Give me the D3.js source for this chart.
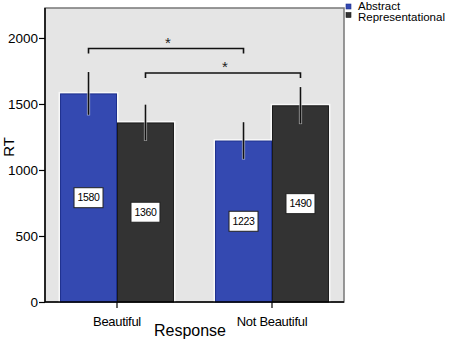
<!DOCTYPE html>
<html>
<head>
<meta charset="utf-8">
<script src="https://cdn.jsdelivr.net/npm/d3@7"></script>
<style>
  body { margin: 0; background: #fff; }
  svg { display: block; font-family: "Liberation Sans", Arial, sans-serif; }
</style>
</head>
<body>
<div id="chart"></div>
<script>
// RT by response and art style, SPSS-like grouped bar chart with error bars

const responses = ["Beautiful", "Not Beautiful"];
const styles = ["Abstract", "Representational"];
const abstractRT = [1580, 1223];
const representationalRT = [1360, 1490];
const abstractErr = [162, 139];
const representationalErr = [135, 138];
const yTicks = [0, 500, 1000, 1500, 2000];
// significance brackets: which style pair is compared, and bracket height in RT units
const bracketStyles = ["Abstract", "Representational"];
const bracketRT = [1920, 1735];
const bracketLabels = ["*", "*"];

const W = 454, H = 343;
const plot = { left: 45, top: 8, right: 344, bottom: 302 };

const colors = { Abstract: "#3449b1", Representational: "#333333" };
const edges = { Abstract: "#1c2f8e", Representational: "#1a1a1a" };

const rows = [];
responses.forEach((r, i) => {
  rows.push({ response: r, style: "Abstract", value: abstractRT[i], err: abstractErr[i] });
  rows.push({ response: r, style: "Representational", value: representationalRT[i], err: representationalErr[i] });
});

const svg = d3.select("#chart").append("svg")
  .attr("width", W)
  .attr("height", H)
  .attr("viewBox", `0 0 ${W} ${H}`);

const x0 = d3.scaleBand()
  .domain(responses)
  .range([plot.left, plot.right])
  .paddingInner(0.265)
  .paddingOuter(0.097);

const x1 = d3.scaleBand()
  .domain(styles)
  .range([0, x0.bandwidth()]);

const y = d3.scaleLinear()
  .domain([0, 2227])
  .range([plot.bottom, plot.top]);

const cx = d => x0(d.response) + x1(d.style) + x1.bandwidth() / 2;

// plot background
svg.append("rect")
  .attr("x", plot.left)
  .attr("y", plot.top)
  .attr("width", plot.right - plot.left)
  .attr("height", plot.bottom - plot.top)
  .attr("fill", "#e5e5e5")
  .attr("stroke", "#777")
  .attr("stroke-width", 1.5);

// light halo round bars
svg.append("g").selectAll("rect")
  .data(rows)
  .join("rect")
  .attr("x", d => x0(d.response) + x1(d.style) - 1.5)
  .attr("y", d => y(d.value) - 1.5)
  .attr("width", x1.bandwidth() + 3)
  .attr("height", d => y(0) - y(d.value) + 1.5)
  .attr("fill", "#f8f8f8");

svg.append("g").selectAll("rect")
  .data(rows)
  .join("rect")
  .attr("x", d => x0(d.response) + x1(d.style) + 0.5)
  .attr("y", d => y(d.value) + 0.5)
  .attr("width", x1.bandwidth() - 1)
  .attr("height", d => y(0) - y(d.value) - 0.5)
  .attr("fill", d => colors[d.style])
  .attr("stroke", d => edges[d.style])
  .attr("stroke-width", 1);

// error bars
const gErr = svg.append("g");
gErr.selectAll("line.halo")
  .data(rows)
  .join("line")
  .attr("class", "halo")
  .attr("x1", cx).attr("x2", cx)
  .attr("y1", d => y(d.value + d.err) - 0.6)
  .attr("y2", d => y(d.value - d.err) + 0.6)
  .attr("stroke", "#f4f4f4")
  .attr("stroke-opacity", 0.6)
  .attr("stroke-width", 3.2);
gErr.selectAll("line.bar")
  .data(rows)
  .join("line")
  .attr("class", "bar")
  .attr("x1", cx).attr("x2", cx)
  .attr("y1", d => y(d.value + d.err))
  .attr("y2", d => y(d.value - d.err))
  .attr("stroke", "#111")
  .attr("stroke-width", 1.6);

// value labels
const gLab = svg.append("g");
const labs = gLab.selectAll("g")
  .data(rows)
  .join("g")
  .attr("transform", d => `translate(${cx(d)},${y(d.value / 2)})`);
labs.append("rect")
  .attr("x", -14.5).attr("y", -10)
  .attr("width", 29).attr("height", 20)
  .attr("fill", "#fff")
  .attr("stroke", "#222")
  .attr("stroke-width", 1);
labs.append("text")
  .attr("text-anchor", "middle")
  .attr("dy", "0.36em")
  .attr("font-size", 10.5)
  .attr("letter-spacing", -0.3)
  .attr("fill", "#000")
  .text(d => d.value);

// significance brackets
const brackets = bracketStyles.map((s, i) => ({
  a: rows.find(r => r.response === responses[0] && r.style === s),
  b: rows.find(r => r.response === responses[1] && r.style === s),
  h: bracketRT[i],
  label: bracketLabels[i]
}));
const gBr = svg.append("g");
gBr.selectAll("path")
  .data(brackets)
  .join("path")
  .attr("d", d => {
    const xa = cx(d.a), xb = cx(d.b), yy = y(d.h), drop = 5;
    return `M${xa},${yy + drop}V${yy}H${xb}V${yy + drop}`;
  })
  .attr("fill", "none")
  .attr("stroke", "#111")
  .attr("stroke-width", 1.6);
gBr.selectAll("text")
  .data(brackets)
  .join("text")
  .attr("x", d => (cx(d.a) + cx(d.b)) / 2 + 2)
  .attr("y", d => y(d.h) - 0.5)
  .attr("text-anchor", "middle")
  .attr("font-size", 15)
  .attr("fill", "#222")
  .text(d => d.label);

// axes
const yAxis = svg.append("g")
  .attr("transform", `translate(${plot.left},0)`)
  .call(d3.axisLeft(y).tickValues(yTicks).tickFormat(d3.format("d"))
    .tickSize(6).tickPadding(1).tickSizeOuter(0));
yAxis.select(".domain").attr("stroke", "#000").attr("stroke-width", 1.5)
  .attr("d", `M0,${plot.top}V${plot.bottom}`);
yAxis.selectAll(".tick line").attr("stroke", "#000").attr("stroke-width", 1.2);
yAxis.selectAll(".tick text").attr("font-size", 13.5).attr("fill", "#000")
  .attr("font-family", "'Liberation Sans', Arial, sans-serif");

const xAxis = svg.append("g")
  .attr("transform", `translate(0,${plot.bottom})`)
  .call(d3.axisBottom(x0).tickSize(6).tickPadding(9).tickSizeOuter(0));
xAxis.select(".domain").attr("stroke", "#000").attr("stroke-width", 1.5)
  .attr("d", `M${plot.left},0H${plot.right}`);
xAxis.selectAll(".tick line").attr("stroke", "#000").attr("stroke-width", 1.2);
xAxis.selectAll(".tick text").attr("font-size", 13).attr("fill", "#000")
  .attr("letter-spacing", -0.3)
  .attr("font-family", "'Liberation Sans', Arial, sans-serif");

// axis titles
svg.append("text")
  .attr("x", 190)
  .attr("y", 336)
  .attr("text-anchor", "middle")
  .attr("font-size", 16)
  .text("Response");

svg.append("text")
  .attr("transform", "translate(14,147) rotate(-90)")
  .attr("text-anchor", "middle")
  .attr("font-size", 15)
  .text("RT");

// legend
const legend = svg.append("g").selectAll("g")
  .data(styles)
  .join("g")
  .attr("transform", (d, i) => `translate(346,${4 + i * 8.5})`);
legend.append("rect")
  .attr("width", 5).attr("height", 5)
  .attr("fill", d => colors[d])
  .attr("stroke", d => edges[d])
  .attr("stroke-width", 0.6);
legend.append("text")
  .attr("x", 12)
  .attr("y", (d, i) => 6 + i * 2.5)
  .attr("font-size", 11.5)
  .text(d => d);
</script>
</body>
</html>
